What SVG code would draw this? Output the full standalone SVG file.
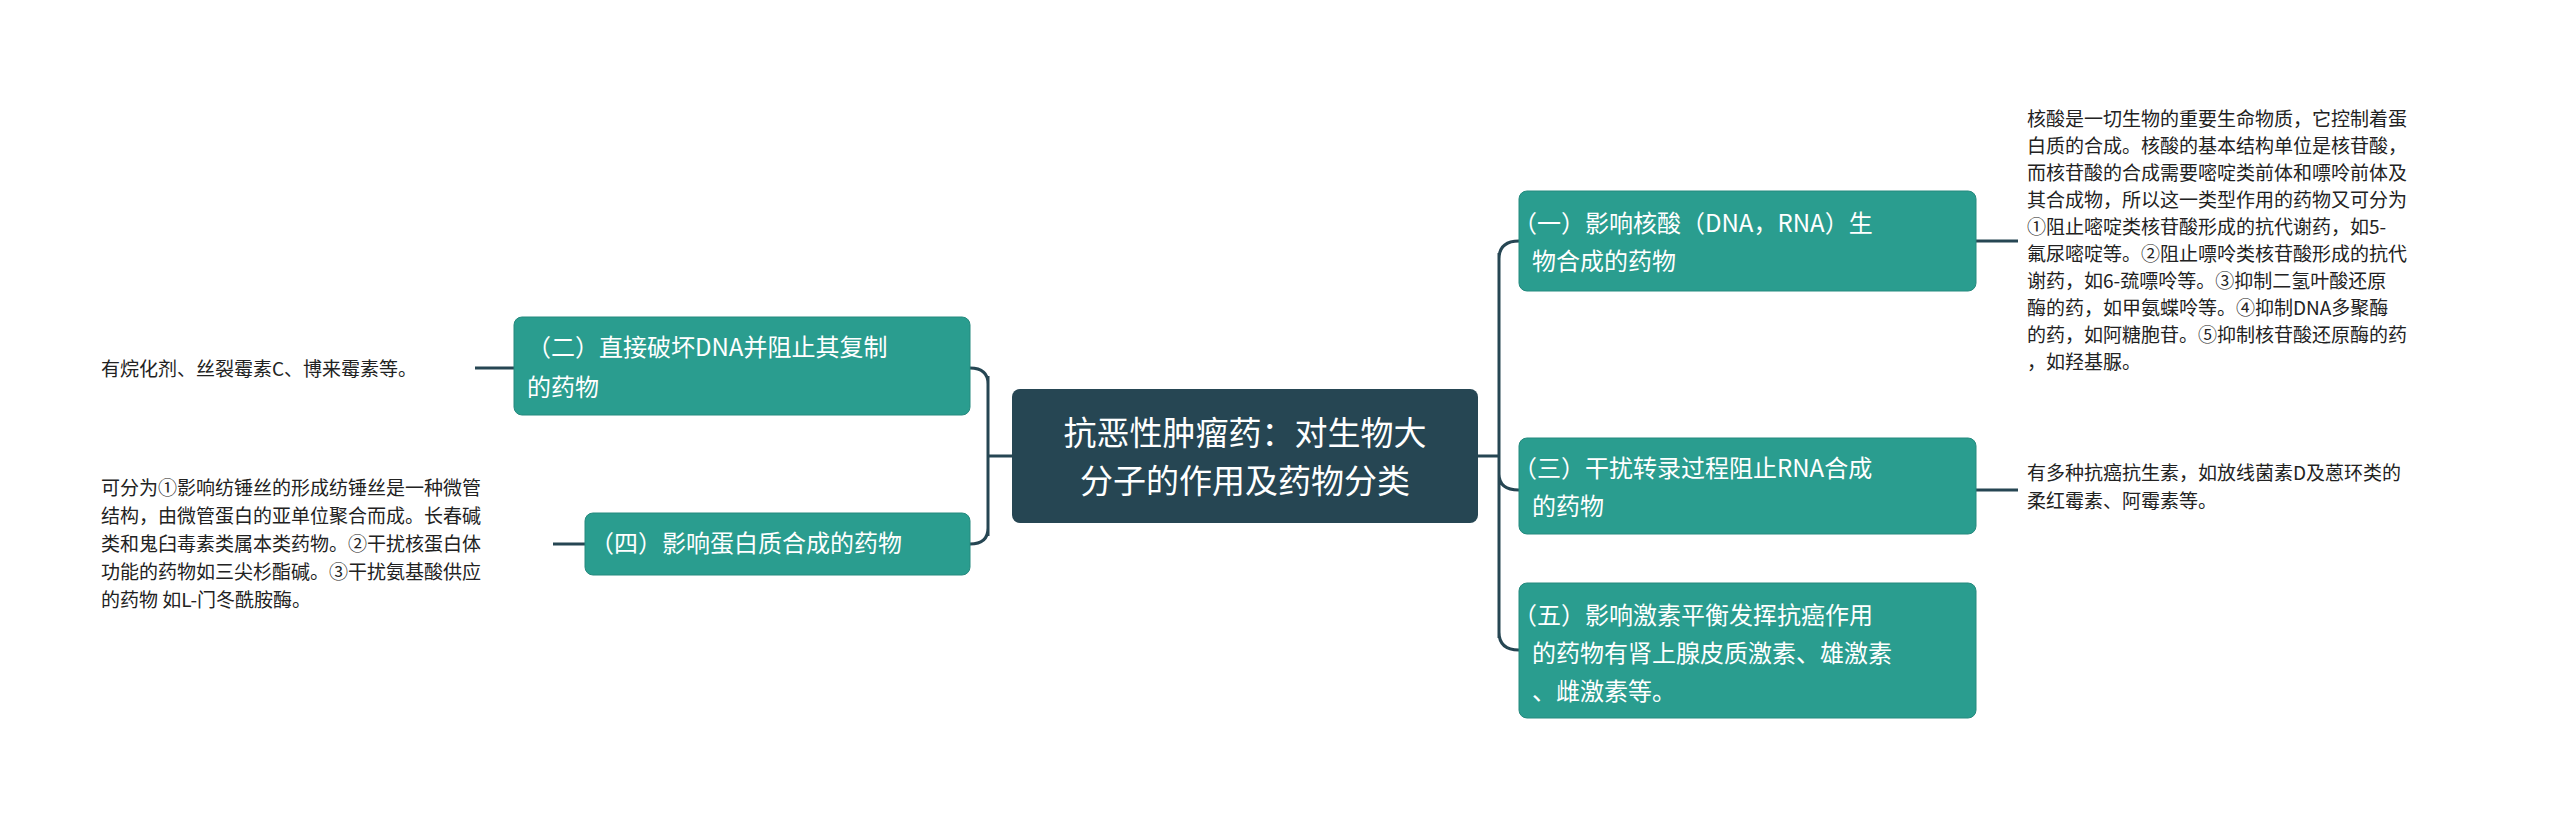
<svg xmlns="http://www.w3.org/2000/svg" width="2560" height="815" viewBox="0 0 2560 815">
<style>
.n{fill:#2a9d8f;stroke:#258a7e;stroke-width:1}
.c{fill:#264653}
.t{font-family:"Noto Sans CJK SC","Noto Sans",sans-serif;fill:#fff;font-size:24px}
.ct{font-family:"Noto Sans CJK SC","Noto Sans",sans-serif;fill:#fff;font-size:33px}
.l{font-family:"Noto Sans CJK SC","Noto Sans",sans-serif;fill:#222;font-size:19px}
.e{fill:none;stroke:#264653;stroke-width:3}
</style>
<rect width="2560" height="815" fill="#fff"/>
<g id="connectors">
<path class="e" d="M1012 456 H988 M988 376 V536 M970 368 Q988 368 988 384 M970 544 Q988 544 988 528"/>
<path class="e" d="M1478 456 H1499 M1499 253 V638 M1519 241 Q1499 241 1499 259 M1519 490 Q1499 490 1499 474 M1519 650 Q1499 650 1499 632"/>
<path class="e" d="M1976 241 H2018 M1976 490 H2018 M514 368 H475 M585 544 H553"/>
</g>
<g id="center"><rect class="c" x="1012" y="389" width="466" height="134" rx="8"/>
<text class="ct" x="1245" y="445" text-anchor="middle">抗恶性肿瘤药：对生物大</text>
<text class="ct" x="1245" y="493" text-anchor="middle">分子的作用及药物分类</text></g>
<g id="n2"><rect class="n" x="514" y="317" width="456" height="98" rx="8"/>
<text class="t" x="527" y="356">（二）直接破坏DNA并阻止其复制</text>
<text class="t" x="527" y="396">的药物</text></g>
<g id="n4"><rect class="n" x="585" y="513" width="385" height="62" rx="8"/>
<text class="t" x="590" y="552">（四）影响蛋白质合成的药物</text></g>
<g id="n1"><rect class="n" x="1519" y="191" width="457" height="100" rx="8"/>
<text class="t" x="1513" y="232">（一）影响核酸（DNA，RNA）生</text>
<text class="t" x="1532" y="270">物合成的药物</text></g>
<g id="n3"><rect class="n" x="1519" y="438" width="457" height="96" rx="8"/>
<text class="t" x="1513" y="477">（三）干扰转录过程阻止RNA合成</text>
<text class="t" x="1532" y="515">的药物</text></g>
<g id="n5"><rect class="n" x="1519" y="583" width="457" height="135" rx="8"/>
<text class="t" x="1513" y="624">（五）影响激素平衡发挥抗癌作用</text>
<text class="t" x="1532" y="662">的药物有肾上腺皮质激素、雄激素</text>
<text class="t" x="1532" y="700">、雌激素等。</text></g>
<g id="leaf2"><text class="l" x="101" y="376">有烷化剂、丝裂霉素C、博来霉素等。</text></g>
<g id="leaf4"><text class="l" x="101" y="495">可分为①影响纺锤丝的形成纺锤丝是一种微管</text>
<text class="l" x="101" y="523">结构，由微管蛋白的亚单位聚合而成。长春碱</text>
<text class="l" x="101" y="551">类和鬼臼毒素类属本类药物。②干扰核蛋白体</text>
<text class="l" x="101" y="579">功能的药物如三尖杉酯碱。③干扰氨基酸供应</text>
<text class="l" x="101" y="607">的药物 如L-门冬酰胺酶。</text></g>
<g id="leaf1">
<text class="l" x="2027" y="126">核酸是一切生物的重要生命物质，它控制着蛋</text>
<text class="l" x="2027" y="153">白质的合成。核酸的基本结构单位是核苷酸，</text>
<text class="l" x="2027" y="180">而核苷酸的合成需要嘧啶类前体和嘌呤前体及</text>
<text class="l" x="2027" y="207">其合成物，所以这一类型作用的药物又可分为</text>
<text class="l" x="2027" y="234">①阻止嘧啶类核苷酸形成的抗代谢药，如5-</text>
<text class="l" x="2027" y="261">氟尿嘧啶等。②阻止嘌呤类核苷酸形成的抗代</text>
<text class="l" x="2027" y="288">谢药，如6-巯嘌呤等。③抑制二氢叶酸还原</text>
<text class="l" x="2027" y="315">酶的药，如甲氨蝶呤等。④抑制DNA多聚酶</text>
<text class="l" x="2027" y="342">的药，如阿糖胞苷。⑤抑制核苷酸还原酶的药</text>
<text class="l" x="2027" y="369">，如羟基脲。</text></g>
<g id="leaf3">
<text class="l" x="2027" y="480">有多种抗癌抗生素，如放线菌素D及蒽环类的</text>
<text class="l" x="2027" y="508">柔红霉素、阿霉素等。</text></g>
</svg>
